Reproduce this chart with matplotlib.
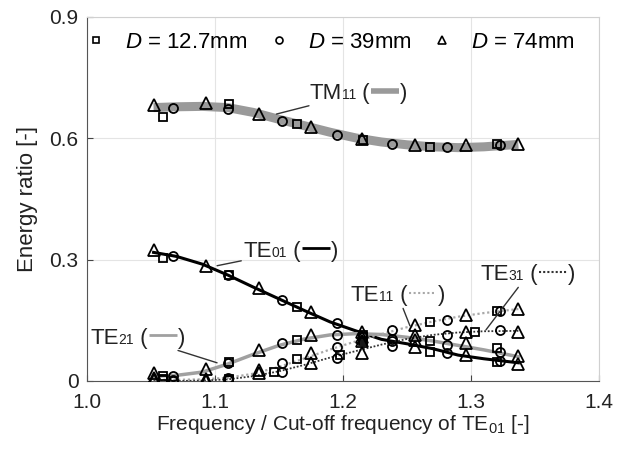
import matplotlib
matplotlib.use("Agg")
import matplotlib.pyplot as plt
from matplotlib.lines import Line2D
from matplotlib.offsetbox import TextArea, DrawingArea, HPacker, AnnotationBbox

plt.rcParams['font.family'] = ['Liberation Sans', 'DejaVu Sans']
plt.rcParams['mathtext.fontset'] = 'custom'
plt.rcParams['mathtext.rm'] = 'Liberation Sans'
plt.rcParams['mathtext.it'] = 'Liberation Sans:italic'

# --- measured points, D = 74 mm (triangles)
f74 = [1.052, 1.093, 1.134, 1.175, 1.215, 1.256, 1.296, 1.337]
tm11_74 = [0.682, 0.687, 0.660, 0.628, 0.598, 0.583, 0.583, 0.586]
te01_74 = [0.323, 0.285, 0.231, 0.171, 0.120, 0.084, 0.065, 0.043]
te21_74 = [0.020, 0.030, 0.077, 0.114, 0.110, 0.102, 0.094, 0.063]
te11_74 = [0.008, 0.004, 0.027, 0.069, 0.100, 0.139, 0.164, 0.178]
te31_74 = [0.003, 0.001, 0.020, 0.045, 0.069, 0.114, 0.122, 0.122]

# --- D = 39 mm (circles)
f39 = [1.067, 1.110, 1.152, 1.195, 1.238, 1.281, 1.323]
tm11_39 = [0.675, 0.672, 0.643, 0.608, 0.586, 0.578, 0.583]
te01_39 = [0.310, 0.263, 0.201, 0.144, 0.086, 0.069, 0.050]
te21_39 = [0.012, 0.045, 0.094, 0.114, 0.105, 0.089, 0.072]
te11_39 = [0.003, 0.008, 0.045, 0.084, 0.127, 0.151, 0.173]
te31_39 = [0.001, 0.003, 0.022, 0.057, 0.100, 0.114, 0.125]

# --- D = 12.7 mm (squares)
f127 = [1.059, 1.111, 1.164, 1.216, 1.268, 1.320]
tm11_127 = [0.653, 0.685, 0.635, 0.595, 0.578, 0.585]
te01_127 = [0.303, 0.263, 0.184, 0.113, 0.072, 0.047]
te21_127 = [0.012, 0.047, 0.102, 0.100, 0.098, 0.082]
te11_127 = [0.005, 0.005, 0.055, 0.110, 0.146, 0.173]
f127_te31 = [1.059, 1.111, 1.146, 1.198, 1.303]
te31_127 = [0.003, 0.003, 0.022, 0.064, 0.122]

# --- fitted curves
fc = [1.052, 1.07, 1.09, 1.11, 1.13, 1.15, 1.17, 1.19, 1.21, 1.23, 1.25, 1.27, 1.29, 1.31, 1.337]
tm11_fit = [0.676, 0.678, 0.679, 0.676, 0.664, 0.647, 0.631, 0.615, 0.601, 0.591, 0.584, 0.579, 0.577, 0.579, 0.585]
te01_fit = [0.318, 0.308, 0.289, 0.262, 0.232, 0.203, 0.174, 0.146, 0.124, 0.103, 0.092, 0.080, 0.064, 0.055, 0.045]
te21_fit = [0.012, 0.014, 0.022, 0.042, 0.066, 0.088, 0.104, 0.114, 0.117, 0.115, 0.108, 0.099, 0.088, 0.077, 0.060]
te11_fit = [0.003, 0.003, 0.004, 0.008, 0.018, 0.035, 0.056, 0.078, 0.098, 0.116, 0.133, 0.147, 0.159, 0.168, 0.178]
te31_fit = [0.0, 0.0, 0.001, 0.004, 0.012, 0.024, 0.040, 0.058, 0.074, 0.090, 0.104, 0.114, 0.120, 0.123, 0.124]

legend_labels = ['$D$ = 12.7mm', '$D$ = 39mm', '$D$ = 74mm']

fig = plt.figure(figsize=(6.4, 4.5), dpi=100)
ax = fig.add_axes([87 / 640, 1 - 381 / 450, 512 / 640, 364 / 450])

# curves
ax.plot(fc, tm11_fit, color='#9a9a9a', lw=6.5, solid_capstyle='butt', zorder=2)
ax.plot(fc, te01_fit, color='black', lw=2.2, zorder=2)
ax.plot(fc, te21_fit, color='#a0a0a0', lw=2.5, zorder=2)
ax.plot(fc, te11_fit, color='#a8a8a8', lw=1.6, ls=(0, (1, 1.2)), zorder=2)
ax.plot(fc, te31_fit, color='#333333', lw=1.3, ls=(0, (1, 1.0)), zorder=2)

mk = dict(mfc='none', mec='black', mew=1.3, ls='none', zorder=3)
for ys in [tm11_127, te01_127, te21_127, te11_127]:
    ax.plot(f127, ys, marker='s', ms=6, **mk)
ax.plot(f127_te31, te31_127, marker='s', ms=6, **mk)
for ys in [tm11_39, te01_39, te21_39, te11_39, te31_39]:
    ax.plot(f39, ys, marker='o', ms=6.5, **mk)
for ys in [tm11_74, te01_74, te21_74, te11_74, te31_74]:
    ax.plot(f74, ys, marker='^', ms=8, **mk)

ax.set_xlim(1.0, 1.4)
ax.set_ylim(0, 0.9)
ax.set_xticks([1.0, 1.1, 1.2, 1.3, 1.4])
ax.set_xticklabels(['1.0', '1.1', '1.2', '1.3', '1.4'])
ax.set_yticks([0, 0.3, 0.6, 0.9])
ax.set_yticklabels(['0', '0.3', '0.6', '0.9'])
ax.tick_params(direction='in', length=4, labelsize=15, colors='#444444', labelcolor='#222222')
ax.tick_params(axis='x', pad=9)
ax.tick_params(axis='y', pad=6)
ax.grid(True, color='#e4e4e4', lw=0.8)
ax.set_axisbelow(True)
for s in ['top', 'right']:
    ax.spines[s].set_color('#d0d0d0')
for s in ['left', 'bottom']:
    ax.spines[s].set_color('#555555')
ax.set_xlabel('Frequency / Cut-off frequency of TE$_{01}$ [-]', fontsize=15, color='#222222', labelpad=0)
ax.set_ylabel('Energy ratio [-]', fontsize=16, color='#222222', labelpad=8)

handles = [Line2D([], [], marker=m, ms=s, mfc='none', mec='black', mew=1.2, ls='none')
           for m, s in [('s', 5), ('o', 5), ('^', 6)]]
ax.legend(handles, legend_labels, loc='upper center', bbox_to_anchor=(0.475, 1.015), ncol=3,
          frameon=False, fontsize=16, handlelength=1.0, handletextpad=0.8, columnspacing=0.9)


def mode_label(name, sub, color, lw, ls):
    parts = [TextArea(name, textprops=dict(fontsize=16, color='#222222')),
             TextArea(sub, textprops=dict(fontsize=10, color='#222222')),
             TextArea(' (', textprops=dict(fontsize=16, color='#222222'))]
    da = DrawingArea(22, 12, 0, 0)
    da.add_artist(Line2D([1, 21], [6, 6], color=color, lw=lw, ls=ls, solid_capstyle='butt'))
    parts.append(da)
    parts.append(TextArea(')', textprops=dict(fontsize=16, color='#222222')))
    return HPacker(children=parts, align='baseline', pad=0, sep=0)


labels = [
    ('TM', '11', '#9a9a9a', 4, '-', (1.148, 0.660), (1.174, 0.712), (0, 0.5)),
    ('TE', '01', 'black', 2, '-', (1.1016, 0.285), (1.122, 0.322), (0, 0.5)),
    ('TE', '21', '#a0a0a0', 2, '-', (1.1016, 0.045), (1.077, 0.107), (1, 0.5)),
    ('TE', '11', '#a8a8a8', 1.5, (0, (1, 1.2)), (1.2523, 0.1365), (1.243, 0.211), (0.5, 0.5)),
    ('TE', '31', '#333333', 1.5, (0, (1, 1.0)), (1.3117, 0.1265), (1.3445, 0.263), (0.5, 0.5)),
]
for name, sub, c, lw, ls, xy, xyb, al in labels:
    ab = AnnotationBbox(mode_label(name, sub, c, lw, ls), xy, xybox=xyb, xycoords='data',
                        boxcoords='data', box_alignment=al, frameon=False, pad=0.1,
                        arrowprops=dict(arrowstyle='-', color='#333333', lw=1.0,
                                        shrinkA=0, shrinkB=0))
    ab.set_zorder(5)
    ax.add_artist(ab)

fig.savefig('out.png', dpi=100)
